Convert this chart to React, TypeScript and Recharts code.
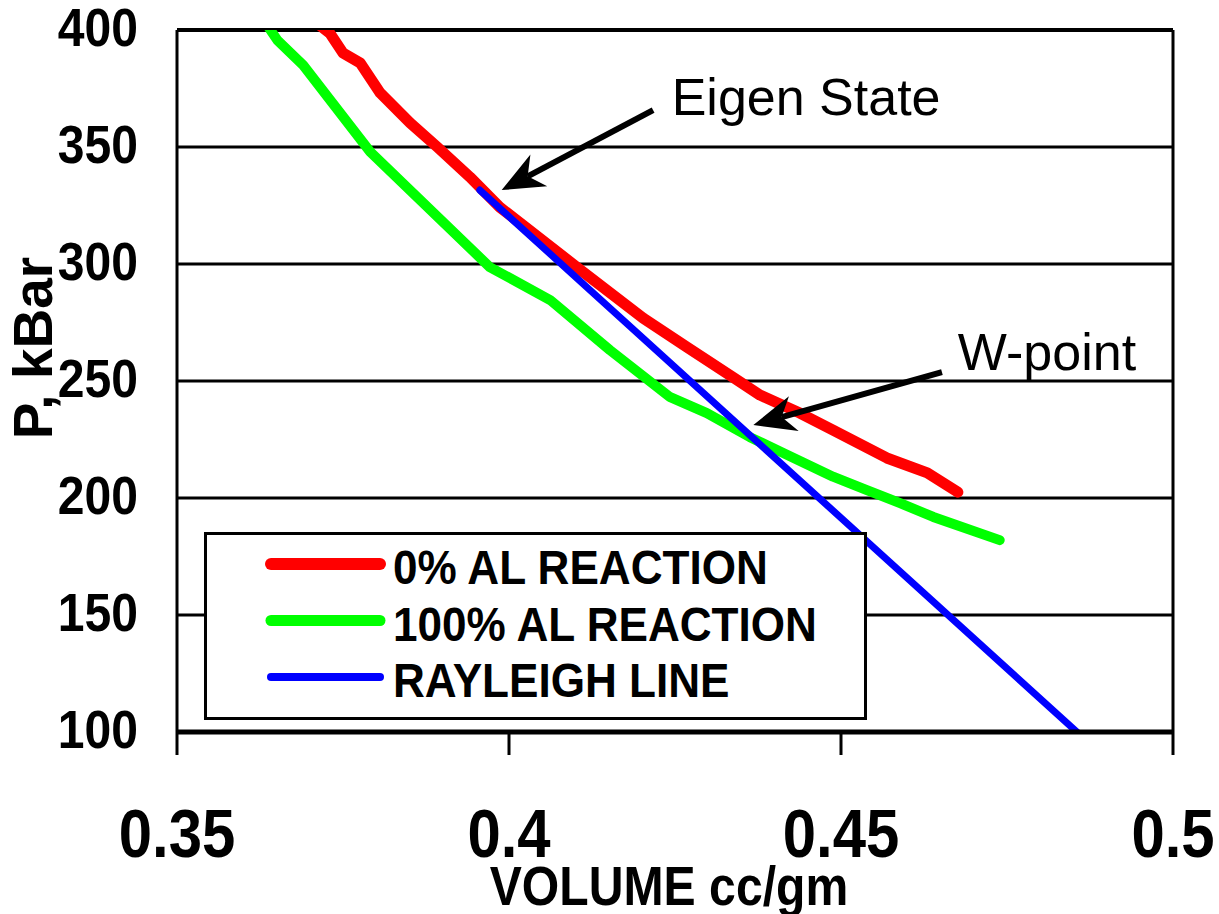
import React from "react";
import {
  LineChart, Line, XAxis, YAxis, CartesianGrid,
  ReferenceLine, ReferenceDot, Legend,
} from "recharts";

const FONT = '"Liberation Sans", Arial, Helvetica, sans-serif';

// 0% AL reaction
const redVol = [0.3715, 0.373, 0.375, 0.3776, 0.3806, 0.3851, 0.3892, 0.3941, 0.3986, 0.4102, 0.4202, 0.4268, 0.4337, 0.4378, 0.4438, 0.4488, 0.4569, 0.463, 0.4676];
const redP = [402, 398.7, 390.2, 385.9, 373.1, 360.3, 350, 337.2, 324.3, 298.7, 276.9, 264.5, 251.7, 244, 236.3, 229, 217.1, 210.7, 202.5];

// 100% AL reaction
const greenVol = [0.3636, 0.3651, 0.369, 0.3791, 0.3971, 0.4062, 0.4152, 0.4242, 0.4298, 0.4363, 0.4413, 0.4488, 0.4539, 0.4589, 0.4639, 0.4739];
const greenP = [402, 395.7, 385, 347.9, 298.7, 284.6, 263.2, 243.2, 236.3, 226, 219.2, 209.1, 203.4, 197.8, 191.9, 182];

// Rayleigh line
const blueVol = [0.3956, 0.4872];
const blueP = [331.6, 95.7];

const xTicks = [0.35, 0.4, 0.45, 0.5];
const yTicks = [100, 150, 200, 250, 300, 350, 400];

// annotation text anchor + arrow tail -> tip, in data units
const notes = [
  { text: "Eigen State", v: 0.4245, p: 363.7, tail: { v: 0.4217, p: 365.8 }, tip: { v: 0.3989, p: 331.6 } },
  { text: "W-point", v: 0.4676, p: 254.7, tail: { v: 0.4652, p: 253.8 }, tip: { v: 0.4368, p: 231.2 } },
];

const toPts = (vs: number[], ps: number[]) => vs.map((v, i) => ({ v, p: ps[i] }));
const red = toPts(redVol, redP);
const green = toPts(greenVol, greenP);
const blue = toPts(blueVol, blueP);

const XTick = ({ x, y, payload }: any) => (
  <text transform={`translate(${x},${y + 100}) scale(0.88,1)`} textAnchor="middle"
    fontFamily={FONT} fontWeight="bold" fontSize={68} fill="#000">
    {String(payload.value)}
  </text>
);

const YTick = ({ x, y, payload }: any) => (
  <text transform={`translate(${x - 39},${y + 16}) scale(0.89,1)`} textAnchor="end"
    fontFamily={FONT} fontWeight="bold" fontSize={54} fill="#000">
    {String(payload.value)}
  </text>
);

const Arrow = ({ x1, y1, x2, y2 }: any) => {
  const dx = x2 - x1, dy = y2 - y1;
  const len = Math.hypot(dx, dy) || 1;
  const ux = dx / len, uy = dy / len, nx = -uy, ny = ux;
  const L = 42, W = 18;
  const bx = x2 - ux * L, by = y2 - uy * L;
  const mx = x2 - ux * L * 0.7, my = y2 - uy * L * 0.7;
  return (
    <g>
      <line x1={x1} y1={y1} x2={mx} y2={my} stroke="#000" strokeWidth={6} />
      <polygon
        points={`${x2},${y2} ${bx + nx * W},${by + ny * W} ${mx},${my} ${bx - nx * W},${by - ny * W}`}
        fill="#000"
      />
    </g>
  );
};

const LegendBox = ({ payload }: any) => (
  <svg width={663} height={188} style={{ display: "block" }}>
    <rect x={1.5} y={1.5} width={660} height={185} fill="#fff" stroke="#000" strokeWidth={3} />
    {(payload || []).map((e: any, i: number) => {
      const ry = 32 + i * 56.5;
      const sw = (e.payload?.strokeWidth ?? 8) + 1;
      return (
        <g key={e.value}>
          <line x1={67} y1={ry} x2={176} y2={ry} stroke={e.color} strokeWidth={sw} strokeLinecap="round" />
          <text transform={`translate(189,${ry + 20}) scale(0.9,1)`} fontFamily={FONT}
            fontWeight="bold" fontSize={49} fill="#000">
            {e.value}
          </text>
        </g>
      );
    })}
  </svg>
);

export default function App() {
  return (
    <div style={{ position: "absolute", left: 0, top: 0, width: 1219, height: 914, background: "#fff" }}>
      <LineChart width={1219} height={914} margin={{ top: 30, right: 46, left: 0, bottom: 0 }}>
        <CartesianGrid vertical={false} stroke="#000" strokeWidth={3} />
        <XAxis
          type="number" dataKey="v" domain={[0.35, 0.5]} ticks={xTicks} allowDataOverflow
          height={182} tickSize={23} tickMargin={2}
          axisLine={{ stroke: "#000", strokeWidth: 5 }} tickLine={{ stroke: "#000", strokeWidth: 3 }}
          tick={<XTick />}
          label={{
            content: ({ viewBox }: any) => (
              <text transform={`translate(${viewBox.x + viewBox.width / 2 - 6},${viewBox.y + 173}) scale(0.86,1)`}
                textAnchor="middle" fontFamily={FONT} fontWeight="bold" fontSize={56} fill="#000">
                VOLUME cc/gm
              </text>
            ),
          }}
        />
        <YAxis
          type="number" domain={[100, 400]} ticks={yTicks} allowDataOverflow
          width={177} tickSize={0} tickMargin={0} tickLine={false}
          axisLine={{ stroke: "#000", strokeWidth: 3 }}
          tick={<YTick />}
          label={{
            content: ({ viewBox }: any) => (
              <text transform={`translate(${viewBox.x + 52},${viewBox.y + 318}) rotate(-90)`}
                textAnchor="middle" fontFamily={FONT} fontWeight="bold" fontSize={55} fill="#000">
                P, kBar
              </text>
            ),
          }}
        />
        <ReferenceLine y={400} stroke="#000" strokeWidth={4} />
        <ReferenceLine x={0.5} stroke="#000" strokeWidth={3} />
        <Legend
          layout="horizontal" verticalAlign="middle" align="center"
          width={663} height={188}
          wrapperStyle={{ left: 204, top: 532, width: 663, height: 188 }}
          content={<LegendBox />}
        />
        <Line data={red} dataKey="p" name="0% AL REACTION" type="linear" stroke="#ff0000"
          strokeWidth={11} strokeLinecap="round" strokeLinejoin="round" dot={false} isAnimationActive={false} />
        <Line data={green} dataKey="p" name="100% AL REACTION" type="linear" stroke="#00ff00"
          strokeWidth={10} strokeLinecap="round" strokeLinejoin="round" dot={false} isAnimationActive={false} />
        <Line data={blue} dataKey="p" name="RAYLEIGH LINE" type="linear" stroke="#0000ff"
          strokeWidth={7} strokeLinecap="round" dot={false} isAnimationActive={false} />
        {notes.map((n) => (
          <ReferenceLine key={n.text + "-arrow"} segment={[{ x: n.tail.v, y: n.tail.p }, { x: n.tip.v, y: n.tip.p }]}
            shape={(props: any) => <Arrow {...props} />} />
        ))}
        {notes.map((n) => (
          <ReferenceDot key={n.text} x={n.v} y={n.p} r={0}
            shape={({ cx, cy }: any) => (
              <text x={cx} y={cy} fontFamily={FONT} fontSize={52} fill="#000">{n.text}</text>
            )} />
        ))}
      </LineChart>
    </div>
  );
}
